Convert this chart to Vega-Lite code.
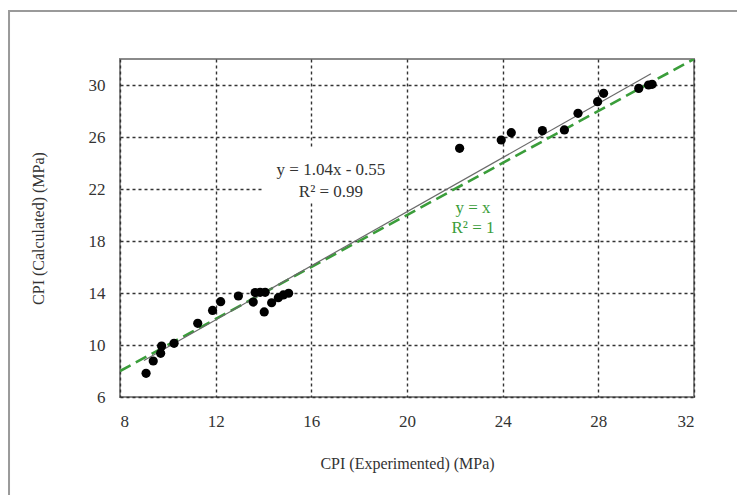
{
  "$schema": "https://vega.github.io/schema/vega-lite/v6.json",
  "width": 574,
  "height": 338,
  "autosize": {"type": "none"},
  "padding": {"left": 120, "top": 59, "right": 43, "bottom": 98},
  "background": "white",
  "datasets": {
    "points": [
      {"exp": 9.09, "calc": 7.82}, {"exp": 9.39, "calc": 8.77}, {"exp": 9.70, "calc": 9.36},
      {"exp": 9.74, "calc": 9.92}, {"exp": 10.26, "calc": 10.13}, {"exp": 11.25, "calc": 11.67},
      {"exp": 11.87, "calc": 12.66}, {"exp": 12.21, "calc": 13.33}, {"exp": 12.95, "calc": 13.77},
      {"exp": 13.57, "calc": 13.3}, {"exp": 13.65, "calc": 14.03}, {"exp": 13.86, "calc": 14.05},
      {"exp": 14.07, "calc": 14.05}, {"exp": 14.03, "calc": 12.54}, {"exp": 14.34, "calc": 13.25},
      {"exp": 14.62, "calc": 13.64}, {"exp": 14.83, "calc": 13.85}, {"exp": 15.05, "calc": 13.98},
      {"exp": 22.2, "calc": 25.13}, {"exp": 23.94, "calc": 25.77}, {"exp": 24.36, "calc": 26.33},
      {"exp": 25.66, "calc": 26.49}, {"exp": 26.58, "calc": 26.54}, {"exp": 27.15, "calc": 27.82},
      {"exp": 27.97, "calc": 28.72}, {"exp": 28.22, "calc": 29.36}, {"exp": 29.69, "calc": 29.74},
      {"exp": 30.1, "calc": 30.0}, {"exp": 30.25, "calc": 30.05}
    ],
    "fit": [
      {"exp": 9.0, "calc": 8.81},
      {"exp": 30.2, "calc": 30.86}
    ],
    "ideal": [
      {"exp": 8, "calc": 8},
      {"exp": 32, "calc": 32}
    ],
    "labels": [
      {"exp": 16.82, "calc": 23.46, "text": "y = 1.04x - 0.55", "line": "fit"},
      {"exp": 16.82, "calc": 21.77, "text": "R² = 0.99", "line": "fit"},
      {"exp": 22.76, "calc": 20.54, "text": "y = x", "line": "ideal"},
      {"exp": 22.76, "calc": 19.0, "text": "R² = 1", "line": "ideal"}
    ]
  },
  "data": {"name": "points"},
  "layer": [
    {
      "mark": {"type": "rect", "fill": null, "filled": false, "stroke": "#9a9a9a", "strokeWidth": 2, "clip": false},
      "data": {"values": [{}]},
      "encoding": {
        "x": {"datum": 3.36, "type": "quantitative", "scale": {"domain": [8, 32], "nice": false, "zero": false}},
        "x2": {"datum": 40},
        "y": {"datum": 35.69, "type": "quantitative", "scale": {"domain": [6, 32], "nice": false, "zero": false}},
        "y2": {"datum": -20}
      }
    },
    {
      "mark": {"type": "rect", "fill": "white"},
      "data": {"values": [{}]},
      "encoding": {
        "x": {"datum": 13.94, "type": "quantitative"},
        "x2": {"datum": 19.84},
        "y": {"datum": 25.15, "type": "quantitative"},
        "y2": {"datum": 20.92}
      }
    },
    {
      "data": {"name": "ideal"},
      "mark": {"type": "line", "color": "#3a9d3a", "strokeWidth": 2.6, "strokeDash": [12, 6], "clip": true},
      "encoding": {
        "x": {"field": "exp", "type": "quantitative"},
        "y": {"field": "calc", "type": "quantitative"}
      }
    },
    {
      "data": {"name": "fit"},
      "mark": {"type": "line", "color": "#6a6a6a", "strokeWidth": 1.2},
      "encoding": {
        "x": {"field": "exp", "type": "quantitative"},
        "y": {"field": "calc", "type": "quantitative"}
      }
    },
    {
      "mark": {"type": "circle", "color": "black", "opacity": 1, "size": 85},
      "encoding": {
        "x": {
          "field": "exp",
          "type": "quantitative",
          "title": "CPI (Experimented) (MPa)",
          "axis": {"values": [8, 12, 16, 20, 24, 28, 32]}
        },
        "y": {
          "field": "calc",
          "type": "quantitative",
          "title": "CPI (Calculated) (MPa)",
          "axis": {"values": [6, 10, 14, 18, 22, 26, 30]}
        }
      }
    },
    {
      "data": {"name": "labels"},
      "mark": {"type": "text", "font": "Liberation Serif", "fontSize": 17, "baseline": "middle", "align": "center"},
      "encoding": {
        "x": {"field": "exp", "type": "quantitative"},
        "y": {"field": "calc", "type": "quantitative"},
        "text": {"field": "text"},
        "color": {
          "field": "line",
          "type": "nominal",
          "scale": {"domain": ["fit", "ideal"], "range": ["#333333", "#3a9d3a"]},
          "legend": null
        }
      }
    }
  ],
  "config": {
    "view": {"stroke": "#8a8a8a", "strokeWidth": 2},
    "axis": {
      "domain": false,
      "ticks": false,
      "grid": true,
      "gridColor": "#333333",
      "gridDash": [3, 3],
      "gridWidth": 1.4,
      "gridOpacity": 1,
      "labelFont": "Liberation Serif",
      "labelFontSize": 17,
      "labelColor": "#333333",
      "titleFont": "Liberation Serif",
      "titleFontSize": 16,
      "titleFontWeight": "normal",
      "titleColor": "#333333"
    },
    "axisX": {"labelPadding": 16, "titlePadding": 26},
    "axisY": {"labelPadding": 15, "titlePadding": 42}
  }
}
